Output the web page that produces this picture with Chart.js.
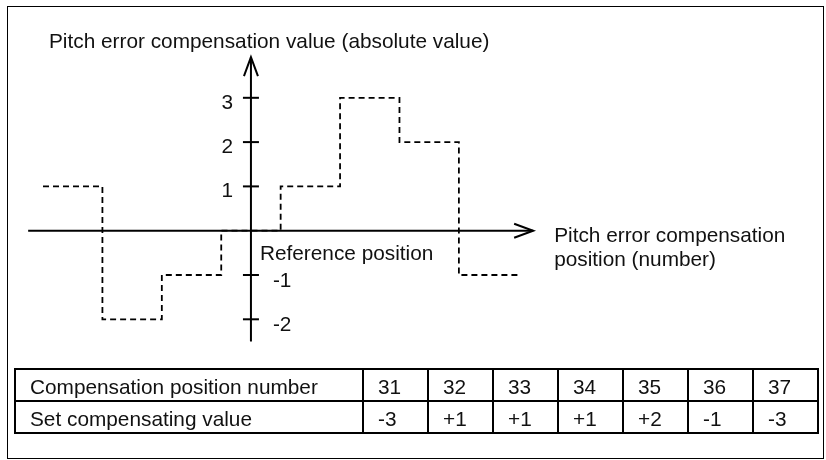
<!DOCTYPE html>
<html>
<head>
<meta charset="utf-8">
<script src="https://cdn.jsdelivr.net/npm/chart.js@4.4.1/dist/chart.umd.min.js"></script>
<style>
	html, body { margin: 0; padding: 0; background: #fff; }
	#wrap { position: relative; width: 826px; height: 460px; font-family: "Liberation Sans", Arial, sans-serif; }
	#frame { position: absolute; left: 7px; top: 6px; width: 817px; height: 453px; border: 1.5px solid #000; box-sizing: border-box; }
	#chart { position: absolute; left: 0; top: 0; }
	#tbl { position: absolute; left: 14px; top: 368px; border-collapse: collapse; font-size: 20.8px; color: #111; }
	#tbl td { border: 2px solid #000; height: 32px; padding: 4px 0 0 14px; box-sizing: border-box; text-align: left; }
	#tbl td.lbl { width: 348px; }
	#tbl td.val { width: 65px; }
</style>
</head>
<body>
<div id="wrap">
	<div id="frame"></div>
	<canvas id="chart" width="826" height="460"></canvas>
	<table id="tbl"></table>
</div>
<script>
(function(){
	"use strict";

	// table data
	var rowLabels = ['Compensation position number', 'Set compensating value'];
	var positions = ['31', '32', '33', '34', '35', '36', '37'];
	var setValues = ['-3', '+1', '+1', '+1', '+2', '-1', '-3'];

	// step curve (absolute compensation value between positions)
	var stepX = [30, 31, 32, 33, 34, 35, 36, 37, 38];
	var stepLevels = [1, -2, -1, 0, 1, 3, 2, -1, -1];

	// axis ticks
	var yTicks = [3, 2, 1, -1, -2];

	var yTitle = 'Pitch error compensation value (absolute value)';
	var xTitle = ['Pitch error compensation', 'position (number)'];
	var refLabel = 'Reference position';

	// build table
	var tbl = document.getElementById('tbl');
	[positions, setValues].forEach(function(row, i){
		var tr = document.createElement('tr');
		var th = document.createElement('td');
		th.className = 'lbl';
		th.textContent = rowLabels[i];
		tr.appendChild(th);
		row.forEach(function(v){
			var td = document.createElement('td');
			td.className = 'val';
			td.textContent = v;
			tr.appendChild(td);
		});
		tbl.appendChild(tr);
	});

	var FONT = '20.8px "Liberation Sans", Arial, sans-serif';

	function arrowHead(ctx, tx, ty, dx, dy, len, half){
		// open chevron, tip at (tx,ty), direction (dx,dy)
		var px = -dy, py = dx;
		ctx.beginPath();
		ctx.moveTo(tx - dx * len + px * half, ty - dy * len + py * half);
		ctx.lineTo(tx, ty);
		ctx.lineTo(tx - dx * len - px * half, ty - dy * len - py * half);
		ctx.stroke();
	}

	var axesPlugin = {
		id: 'axesPlugin',
		beforeDatasetsDraw: function(chart){
			var ctx = chart.ctx;
			var xs = chart.scales.x, ys = chart.scales.y;
			var ax = xs.getPixelForValue(33.5);
			var ay = ys.getPixelForValue(0);
			ctx.save();
			ctx.strokeStyle = '#000';
			ctx.lineWidth = 2;
			ctx.lineCap = 'butt';
			// x axis
			var xEnd = xs.getPixelForValue(38.25);
			ctx.beginPath();
			ctx.moveTo(xs.getPixelForValue(29.75), ay);
			ctx.lineTo(xEnd, ay);
			ctx.stroke();
			arrowHead(ctx, xEnd, ay, 1, 0, 19, 7);
			// y axis
			var yTop = ys.getPixelForValue(3.92);
			ctx.beginPath();
			ctx.moveTo(ax, ys.getPixelForValue(-2.5));
			ctx.lineTo(ax, yTop);
			ctx.stroke();
			arrowHead(ctx, ax, yTop, 0, -1, 19, 7);
			// ticks + labels
			ctx.font = FONT;
			ctx.fillStyle = '#111';
			ctx.textBaseline = 'middle';
			yTicks.forEach(function(t){
				var py = ys.getPixelForValue(t);
				ctx.beginPath();
				ctx.moveTo(ax - 8, py);
				ctx.lineTo(ax + 8, py);
				ctx.stroke();
				if (t > 0) {
					ctx.textAlign = 'right';
					ctx.fillText(String(t), ax - 18, py + 5);
				} else {
					ctx.textAlign = 'left';
					ctx.fillText(String(t), ax + 22, py + 6);
				}
			});
			// titles
			ctx.textAlign = 'left';
			ctx.textBaseline = 'alphabetic';
			ctx.fillText(yTitle, 49, 48);
			ctx.fillText(refLabel, ax + 9, ay + 29);
			ctx.fillText(xTitle[0], xEnd + 21, ay + 11);
			ctx.fillText(xTitle[1], xEnd + 21, ay + 35);
			ctx.restore();
		}
	};

	var points = stepX.map(function(x, i){ return { x: x, y: stepLevels[i] }; });

	new Chart(document.getElementById('chart').getContext('2d'), {
		type: 'line',
		data: {
			datasets: [{
				label: 'Compensation value',
				data: points,
				stepped: true,
				borderColor: '#000',
				borderWidth: 1.8,
				borderDash: [6, 4],
				pointRadius: 0,
				fill: false
			}]
		},
		options: {
			responsive: false,
			animation: false,
			devicePixelRatio: 1,
			layout: { padding: { left: 13.3, right: 278, top: 31.35, bottom: 96.4 } },
			plugins: { legend: { display: false }, tooltip: { enabled: false } },
			scales: {
				x: { type: 'linear', min: 29.5, max: 38.5, display: false },
				y: { type: 'linear', min: -3, max: 4.5, display: false }
			}
		},
		plugins: [axesPlugin]
	});
})();
</script>
</body>
</html>
